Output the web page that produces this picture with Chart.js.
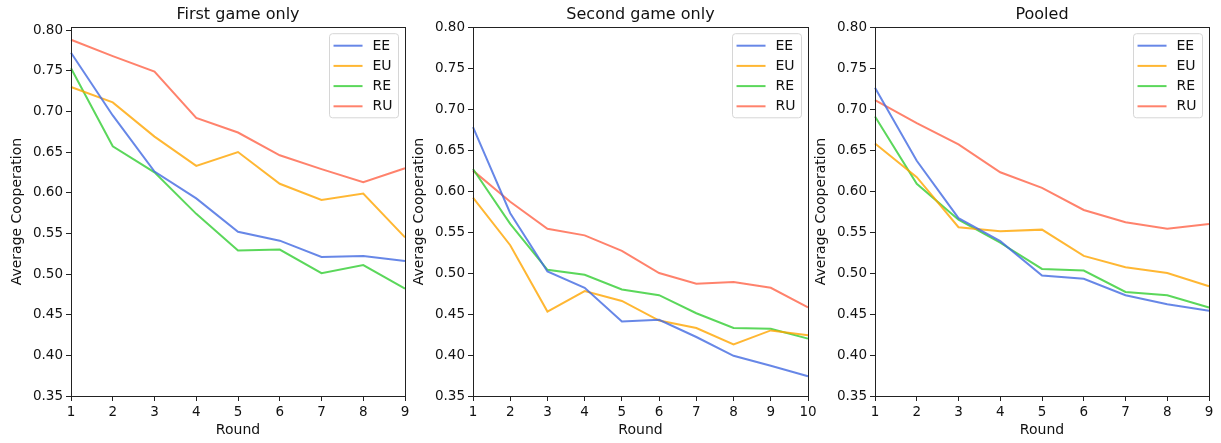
<!DOCTYPE html>
<html>
<head>
<meta charset="utf-8">
<script src="https://cdn.jsdelivr.net/npm/chart.js@4.4.1/dist/chart.umd.min.js"></script>
<style>
  html, body { margin: 0; padding: 0; background: #fff; }
  #wrap { position: relative; width: 1221px; height: 443px; overflow: hidden; background: #fff; }
  canvas { position: absolute; top: 0; }
</style>
</head>
<body>
<div id="wrap">
  <canvas id="c1" width="420" height="443" style="left:0px"></canvas>
  <canvas id="c2" width="420" height="443" style="left:402px"></canvas>
  <canvas id="c3" width="417" height="443" style="left:804px"></canvas>
</div>
<script>
// ---------- data ----------
const seriesNames = ['EE', 'EU', 'RE', 'RU'];
const titles = ['First game only', 'Second game only', 'Pooled'];
const roundsFirst = [1, 2, 3, 4, 5, 6, 7, 8, 9];
const roundsSecond = [1, 2, 3, 4, 5, 6, 7, 8, 9, 10];
const roundsPooled = [1, 2, 3, 4, 5, 6, 7, 8, 9];
const yTicks = [0.35, 0.40, 0.45, 0.50, 0.55, 0.60, 0.65, 0.70, 0.75, 0.80];

// First game only
const firstEE = [0.772, 0.695, 0.626, 0.593, 0.552, 0.541, 0.521, 0.522, 0.516];
const firstEU = [0.730, 0.711, 0.669, 0.633, 0.650, 0.611, 0.591, 0.599, 0.545];
const firstRE = [0.753, 0.657, 0.625, 0.574, 0.529, 0.530, 0.501, 0.511, 0.482];
const firstRU = [0.788, 0.768, 0.749, 0.692, 0.674, 0.646, 0.629, 0.613, 0.630];

// Second game only
const secondEE = [0.678, 0.573, 0.502, 0.482, 0.441, 0.443, 0.422, 0.399, 0.387, 0.374];
const secondEU = [0.592, 0.534, 0.453, 0.478, 0.466, 0.442, 0.433, 0.413, 0.430, 0.424];
const secondRE = [0.627, 0.560, 0.504, 0.498, 0.480, 0.473, 0.451, 0.433, 0.432, 0.420];
const secondRU = [0.625, 0.587, 0.554, 0.546, 0.527, 0.500, 0.487, 0.489, 0.482, 0.458];

// Pooled
const pooledEE = [0.726, 0.637, 0.567, 0.539, 0.497, 0.493, 0.473, 0.462, 0.454];
const pooledEU = [0.658, 0.617, 0.556, 0.551, 0.553, 0.521, 0.507, 0.500, 0.484];
const pooledRE = [0.691, 0.609, 0.565, 0.537, 0.505, 0.503, 0.477, 0.473, 0.458];
const pooledRU = [0.711, 0.683, 0.657, 0.623, 0.604, 0.577, 0.562, 0.554, 0.560];

// ---------- styling ----------
const seriesColors = ['rgba(65,105,225,0.8)', 'rgba(255,165,0,0.8)', 'rgba(50,205,50,0.8)', 'rgba(255,99,71,0.8)'];
const FONT = 'DejaVu Sans';
const TEXT = '#111';
Chart.defaults.font.family = FONT;
Chart.defaults.color = TEXT;

const framePlugin = {
  id: 'frame',
  afterDatasetsDraw(chart) {
    const {ctx, chartArea: a} = chart;
    ctx.save();
    ctx.strokeStyle = '#222';
    ctx.lineWidth = 1;
    ctx.strokeRect(Math.round(a.left) + 0.5, Math.round(a.top) + 0.5,
                   Math.round(a.right - a.left) - 1 + 1, Math.round(a.bottom - a.top) - 1 + 1);
    ctx.restore();
  }
};

const legendPlugin = {
  id: 'mplLegend',
  afterDraw(chart) {
    const {ctx, chartArea: a} = chart;
    const dsets = chart.data.datasets;
    ctx.save();
    ctx.font = '14px "' + FONT + '"';
    let maxW = 0;
    dsets.forEach(d => { maxW = Math.max(maxW, ctx.measureText(d.label).width); });
    const textOff = 43, rowH = 20.2, firstRow = 12;
    const w = textOff + maxW + 6;
    const h = firstRow * 2 + rowH * (dsets.length - 1) - 0.5;
    const x = a.right - 6.5 - w;
    const y = a.top + 6.5;
    // box
    const r = 3;
    ctx.beginPath();
    ctx.moveTo(x + r, y);
    ctx.lineTo(x + w - r, y); ctx.quadraticCurveTo(x + w, y, x + w, y + r);
    ctx.lineTo(x + w, y + h - r); ctx.quadraticCurveTo(x + w, y + h, x + w - r, y + h);
    ctx.lineTo(x + r, y + h); ctx.quadraticCurveTo(x, y + h, x, y + h - r);
    ctx.lineTo(x, y + r); ctx.quadraticCurveTo(x, y, x + r, y);
    ctx.closePath();
    ctx.fillStyle = 'rgba(255,255,255,0.85)';
    ctx.fill();
    ctx.strokeStyle = '#d6d6d6';
    ctx.lineWidth = 1;
    ctx.stroke();
    dsets.forEach((d, i) => {
      const cy = y + firstRow + i * rowH;
      ctx.beginPath();
      ctx.moveTo(x + 4, cy);
      ctx.lineTo(x + 33, cy);
      ctx.strokeStyle = d.borderColor;
      ctx.lineWidth = 2;
      ctx.stroke();
      ctx.fillStyle = TEXT;
      ctx.textAlign = 'left';
      ctx.textBaseline = 'middle';
      ctx.fillText(d.label, x + textOff, cy + 0.5);
    });
    ctx.restore();
  }
};

function makeChart(id, title, rounds, values, yMax, padRight) {
  const datasets = seriesNames.map((name, i) => ({
    label: name,
    data: values[i],
    borderColor: seriesColors[i],
    backgroundColor: seriesColors[i],
    borderWidth: 2,
    pointRadius: 0,
    pointHoverRadius: 0,
    tension: 0,
    fill: false
  }));
  return new Chart(document.getElementById(id), {
    type: 'line',
    data: { labels: rounds.map(String), datasets },
    options: {
      responsive: false,
      animation: false,
      events: [],
      layout: { padding: { left: 0, right: padRight, top: 0, bottom: 0 } },
      plugins: {
        legend: { display: false },
        tooltip: { enabled: false },
        title: {
          display: true,
          text: title,
          fullSize: false,
          color: TEXT,
          font: { family: FONT, size: 16, weight: 'normal' },
          padding: { top: 5, bottom: 3 }
        }
      },
      scales: {
        x: {
          type: 'category',
          offset: false,
          border: { display: false },
          grid: { display: true, drawOnChartArea: false, drawTicks: true, tickLength: 5, color: '#222', lineWidth: 1 },
          ticks: { color: TEXT, font: { family: FONT, size: 13.5 }, padding: 3, maxRotation: 0, autoSkip: false },
          title: { display: true, text: 'Round', color: TEXT, font: { family: FONT, size: 14 }, padding: { top: 0, bottom: 4 } },
          afterFit(scale) { scale.height = 47; }
        },
        y: {
          type: 'linear',
          min: yTicks[0],
          max: yMax,
          border: { display: false },
          grid: { display: true, drawOnChartArea: false, drawTicks: true, tickLength: 5, color: '#222', lineWidth: 1 },
          afterBuildTicks(scale) { scale.ticks = yTicks.map(v => ({ value: v })); },
          ticks: {
            color: TEXT,
            font: { family: FONT, size: 13.5 },
            padding: 3,
            callback: v => Number(v).toFixed(2)
          },
          title: { display: true, text: 'Average Cooperation', color: TEXT, font: { family: FONT, size: 14 }, padding: { top: 9, bottom: 0 } },
          afterFit(scale) { scale.width = 71; }
        }
      }
    },
    plugins: [framePlugin, legendPlugin]
  });
}

makeChart('c1', titles[0], roundsFirst, [firstEE, firstEU, firstRE, firstRU], 0.8035, 15);
makeChart('c2', titles[1], roundsSecond, [secondEE, secondEU, secondRE, secondRU], 0.80, 14);
makeChart('c3', titles[2], roundsPooled, [pooledEE, pooledEU, pooledRE, pooledRU], 0.80, 12);
</script>
</body>
</html>
